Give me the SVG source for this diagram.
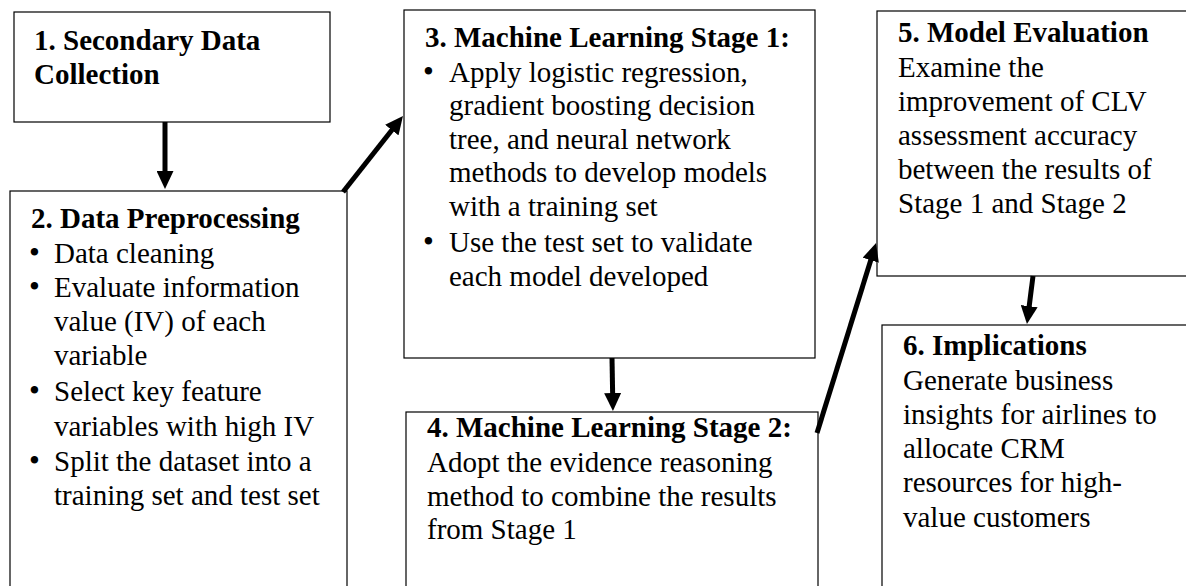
<svg xmlns="http://www.w3.org/2000/svg" width="1186" height="586" viewBox="0 0 1186 586">
  <style>
    .box { fill: #ffffff; stroke: #000000; stroke-width: 1.2; }
    .t { font-size: 29px; fill: #000000; }
    .h { font-weight: bold; }
    .b { font-size: 31px; fill: #000000; }
    .link { fill: none; stroke: #000000; stroke-width: 5; }
  </style>
  <defs>
    <marker id="head" markerUnits="userSpaceOnUse" markerWidth="18" markerHeight="17" viewBox="0 0 18 17" refX="4" refY="8.5" orient="auto">
      <path d="M0,0 L18,8.5 L0,17 Z" fill="#000000"/>
    </marker>
  </defs>
  <rect width="1186" height="586" fill="#ffffff"/>

  <g font-family="Liberation Serif, serif">
  <g id="node1">
    <rect class="box" x="14" y="12" width="316" height="110"/>
    <text class="t h" x="34" y="50">1. Secondary Data</text>
    <text class="t h" x="34" y="84">Collection</text>
  </g>

  <g id="node2">
    <rect class="box" x="10" y="191" width="337" height="420"/>
    <text class="t h" x="31" y="228">2. Data Preprocessing</text>
    <text class="b" x="29" y="263">•</text><text class="t" x="54" y="263">Data cleaning</text>
    <text class="b" x="29" y="297">•</text><text class="t" x="54" y="297">Evaluate information</text>
    <text class="t" x="54" y="331">value (IV) of each</text>
    <text class="t" x="54" y="365">variable</text>
    <text class="b" x="29" y="401">•</text><text class="t" x="54" y="401">Select key feature</text>
    <text class="t" x="54" y="436">variables with high IV</text>
    <text class="b" x="29" y="471">•</text><text class="t" x="54" y="471">Split the dataset into a</text>
    <text class="t" x="54" y="505">training set and test set</text>
  </g>

  <g id="node3">
    <rect class="box" x="404" y="10" width="411" height="348"/>
    <text class="t h" x="425" y="47">3. Machine Learning Stage 1:</text>
    <text class="b" x="423" y="82">•</text><text class="t" x="449" y="82">Apply logistic regression,</text>
    <text class="t" x="449" y="115">gradient boosting decision</text>
    <text class="t" x="449" y="149">tree, and neural network</text>
    <text class="t" x="449" y="182">methods to develop models</text>
    <text class="t" x="449" y="216">with a training set</text>
    <text class="b" x="423" y="252">•</text><text class="t" x="449" y="252">Use the test set to validate</text>
    <text class="t" x="449" y="286">each model developed</text>
  </g>

  <g id="node4">
    <rect class="box" x="406" y="412" width="412" height="200"/>
    <text class="t h" x="427" y="437">4. Machine Learning Stage 2:</text>
    <text class="t" x="427" y="472">Adopt the evidence reasoning</text>
    <text class="t" x="427" y="506">method to combine the results</text>
    <text class="t" x="427" y="539">from Stage 1</text>
  </g>

  <g id="node5">
    <rect class="box" x="877" y="11" width="330" height="265"/>
    <text class="t h" x="898" y="42">5. Model Evaluation</text>
    <text class="t" x="898" y="77">Examine the</text>
    <text class="t" x="898" y="111">improvement of CLV</text>
    <text class="t" x="898" y="145">assessment accuracy</text>
    <text class="t" x="898" y="179">between the results of</text>
    <text class="t" x="898" y="213">Stage 1 and Stage 2</text>
  </g>

  <g id="node6">
    <rect class="box" x="882" y="325" width="330" height="290"/>
    <text class="t h" x="903" y="355">6. Implications</text>
    <text class="t" x="903" y="390">Generate business</text>
    <text class="t" x="903" y="424">insights for airlines to</text>
    <text class="t" x="903" y="458">allocate CRM</text>
    <text class="t" x="903" y="492">resources for high-</text>
    <text class="t" x="903" y="527">value customers</text>
  </g>
  </g>

  <g id="connectors">
    <line class="link" x1="165" y1="122" x2="165" y2="175" marker-end="url(#head)"/>
    <line class="link" x1="343" y1="192" x2="394.3" y2="127" marker-end="url(#head)"/>
    <line class="link" x1="612" y1="358" x2="612.7" y2="397" marker-end="url(#head)"/>
    <line class="link" x1="817" y1="433" x2="871.9" y2="256.4" marker-end="url(#head)"/>
    <line class="link" x1="1033" y1="276" x2="1028.7" y2="310.1" marker-end="url(#head)"/>
  </g>
</svg>
